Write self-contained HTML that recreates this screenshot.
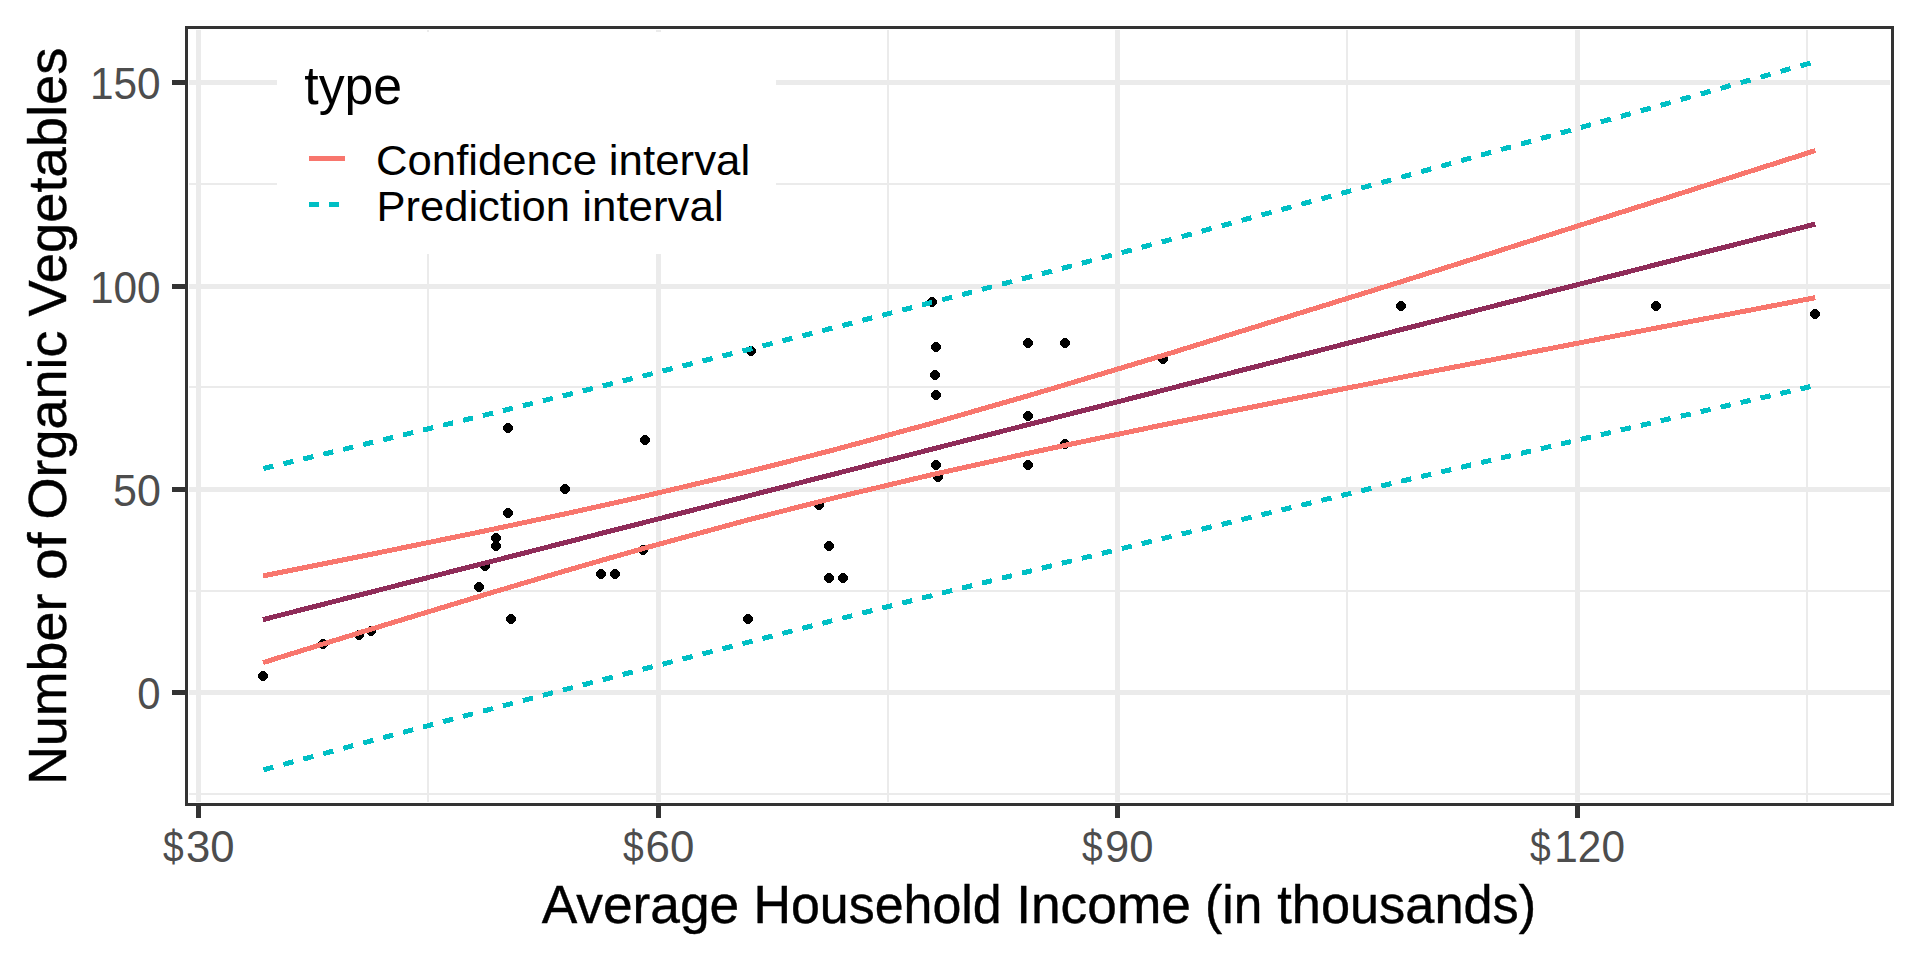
<!DOCTYPE html>
<html><head><meta charset="utf-8"><title>plot</title>
<style>
html,body{margin:0;padding:0;background:#fff;}
body{width:1920px;height:960px;overflow:hidden;}
svg{display:block;}
text{font-family:"Liberation Sans",sans-serif;}
</style></head><body>
<svg width="1920" height="960" viewBox="0 0 1920 960">
<defs><path id="p" d="M-2,-5h4v1h-4z M-3,-4h6v1h-6z M-4,-3h8v1h-8z M-5,-2h10v4h-10z M-4,2h8v1h-8z M-3,3h6v1h-6z M-2,4h4v1h-4z"/></defs>
<rect x="0" y="0" width="1920" height="960" fill="#FFFFFF"/>
<g shape-rendering="crispEdges" fill="#EBEBEB">
<rect x="189" y="183" width="1701" height="2"/>
<rect x="189" y="386" width="1701" height="2"/>
<rect x="189" y="590" width="1701" height="2"/>
<rect x="189" y="793" width="1701" height="2"/>
<rect x="427" y="30" width="2" height="772"/>
<rect x="887" y="30" width="2" height="772"/>
<rect x="1346" y="30" width="2" height="772"/>
<rect x="1806" y="30" width="2" height="772"/>
<rect x="189" y="80" width="1701" height="5"/>
<rect x="189" y="284" width="1701" height="5"/>
<rect x="189" y="487" width="1701" height="5"/>
<rect x="189" y="690" width="1701" height="5"/>
<rect x="196" y="30" width="5" height="772"/>
<rect x="656" y="30" width="5" height="772"/>
<rect x="1115" y="30" width="5" height="772"/>
<rect x="1575" y="30" width="5" height="772"/>
</g>
<g fill="#000000" shape-rendering="crispEdges">
<use href="#p" x="263" y="676"/>
<use href="#p" x="323" y="644"/>
<use href="#p" x="359" y="635"/>
<use href="#p" x="371" y="631"/>
<use href="#p" x="479" y="587"/>
<use href="#p" x="485" y="566"/>
<use href="#p" x="496" y="538"/>
<use href="#p" x="496" y="546"/>
<use href="#p" x="508" y="513"/>
<use href="#p" x="508" y="428"/>
<use href="#p" x="511" y="619"/>
<use href="#p" x="565" y="489"/>
<use href="#p" x="601" y="574"/>
<use href="#p" x="615" y="574"/>
<use href="#p" x="643" y="550"/>
<use href="#p" x="645" y="440"/>
<use href="#p" x="748" y="619"/>
<use href="#p" x="751" y="351"/>
<use href="#p" x="819" y="505"/>
<use href="#p" x="829" y="546"/>
<use href="#p" x="829" y="578"/>
<use href="#p" x="843" y="578"/>
<use href="#p" x="932" y="302"/>
<use href="#p" x="936" y="347"/>
<use href="#p" x="935" y="375"/>
<use href="#p" x="936" y="395"/>
<use href="#p" x="936" y="465"/>
<use href="#p" x="938" y="477"/>
<use href="#p" x="1028" y="343"/>
<use href="#p" x="1028" y="416"/>
<use href="#p" x="1028" y="465"/>
<use href="#p" x="1065" y="343"/>
<use href="#p" x="1065" y="444"/>
<use href="#p" x="1163" y="359"/>
<use href="#p" x="1401" y="306"/>
<use href="#p" x="1656" y="306"/>
<use href="#p" x="1815" y="314"/>
</g>
<g fill="none" stroke-width="5.0" shape-rendering="crispEdges" stroke-linecap="butt" stroke-linejoin="round">
<polyline stroke="#8F2C59" points="263.0,619.6 323.1,604.3 359.0,595.1 371.0,592.1 478.8,564.6 485.0,563.0 495.8,560.3 508.0,557.2 511.0,556.4 564.8,542.7 600.8,533.5 614.8,530.0 643.0,522.8 645.0,522.3 747.8,496.1 750.8,495.3 818.6,478.0 828.8,475.4 843.0,471.8 931.9,449.2 935.0,448.4 935.6,448.2 937.9,447.6 1027.9,424.7 1064.8,415.3 1162.9,390.3 1400.9,329.7 1655.9,264.7 1815.3,224.1"/>
<polyline stroke="#F8766D" points="263.0,575.9 323.1,563.9 359.0,556.7 371.0,554.3 478.8,532.2 485.0,530.9 495.8,528.6 508.0,526.0 511.0,525.4 564.8,513.9 600.8,506.0 614.8,502.8 643.0,496.5 645.0,496.0 747.8,471.7 750.8,471.0 818.6,453.8 828.8,451.2 843.0,447.4 931.9,423.3 935.0,422.4 935.6,422.2 937.9,421.6 1027.9,395.8 1064.8,384.9 1162.9,355.5 1400.9,281.8 1655.9,201.3 1815.3,150.6"/>
<polyline stroke="#F8766D" points="263.0,662.6 323.1,644.0 359.0,632.9 371.0,629.2 478.8,596.5 485.0,594.6 495.8,591.4 508.0,587.8 511.0,586.9 564.8,571.0 600.8,560.6 614.8,556.6 643.0,548.6 645.0,548.0 747.8,520.0 750.8,519.2 818.6,501.9 828.8,499.3 843.0,495.8 931.9,474.7 935.0,474.0 935.6,473.9 937.9,473.4 1027.9,453.3 1064.8,445.4 1162.9,424.9 1400.9,377.4 1655.9,328.1 1815.3,297.7"/>
<path stroke="#00BFC4" d="M263.4,468.5 L273.4,466.1 M283.4,463.7 L293.4,461.3 M303.3,459.0 L313.3,456.6 M323.3,454.2 L333.3,451.8 M343.2,449.4 L353.2,447.0 M363.2,444.6 L371.0,442.7 L373.2,442.2 M383.2,439.8 L393.2,437.3 M403.1,434.9 L413.1,432.5 M423.1,430.1 L433.1,427.6 M443.1,425.2 L453.1,422.8 M463.0,420.4 L473.0,417.9 M483.0,415.5 L485.0,415.0 L493.0,413.1 M502.9,410.6 L508.0,409.4 L511.0,408.7 L512.9,408.2 M522.9,405.7 L532.9,403.3 M542.9,400.8 L552.9,398.3 M562.8,395.9 L564.8,395.4 L572.8,393.4 M582.8,390.9 L592.8,388.5 M602.8,386.0 L612.8,383.5 M622.7,381.0 L632.7,378.5 M642.7,376.1 L643.0,376.0 L645.0,375.5 L652.7,373.6 M662.6,371.0 L672.6,368.5 M682.6,366.0 L692.6,363.5 M702.6,361.0 L712.6,358.5 M722.5,356.0 L732.5,353.5 M742.5,351.0 L747.8,349.7 L750.8,348.9 L752.5,348.5 M762.5,345.9 L772.5,343.4 M782.4,340.9 L792.4,338.3 M802.4,335.8 L812.4,333.2 M822.3,330.7 L828.8,329.0 L832.3,328.1 M842.3,325.6 L843.0,325.4 L852.3,323.0 M862.3,320.4 L872.3,317.8 M882.2,315.3 L892.2,312.7 M902.2,310.1 L912.2,307.5 M922.1,305.0 L931.9,302.4 L932.1,302.4 M942.1,299.8 L952.1,297.2 M962.1,294.6 L972.1,292.0 M982.0,289.4 L992.0,286.7 M1002.0,284.1 L1012.0,281.5 M1022.0,278.9 L1027.9,277.4 L1032.0,276.3 M1041.9,273.7 L1051.9,271.1 M1061.9,268.4 L1064.8,267.7 L1071.9,265.8 M1081.8,263.2 L1091.8,260.5 M1101.8,257.9 L1111.8,255.2 M1121.8,252.6 L1131.8,249.9 M1141.7,247.3 L1151.7,244.6 M1161.7,242.0 L1162.9,241.7 L1171.7,239.3 M1181.7,236.6 L1191.7,233.9 M1201.6,231.2 L1211.6,228.5 M1221.6,225.8 L1231.6,223.1 M1241.5,220.4 L1251.5,217.7 M1261.5,215.0 L1271.5,212.3 M1281.5,209.6 L1291.5,206.9 M1301.4,204.2 L1311.4,201.5 M1321.4,198.8 L1331.4,196.1 M1341.3,193.4 L1351.3,190.7 M1361.3,188.0 L1371.3,185.3 M1381.3,182.6 L1391.3,179.9 M1401.2,177.2 L1411.2,174.5 M1421.2,171.7 L1431.2,168.9 M1441.2,166.2 L1451.2,163.4 M1461.1,160.6 L1471.1,157.9 M1481.1,155.1 L1491.1,152.3 M1501.0,149.6 L1511.0,146.8 M1521.0,144.0 L1531.0,141.3 M1541.0,138.5 L1551.0,135.7 M1560.9,133.0 L1570.9,130.2 M1580.9,127.4 L1590.9,124.7 M1600.9,121.9 L1610.9,119.1 M1620.8,116.4 L1630.8,113.6 M1640.8,110.8 L1650.8,108.1 M1660.7,105.3 L1670.7,102.5 M1680.7,99.6 L1690.7,96.8 M1700.7,94.0 L1710.7,91.2 M1720.6,88.4 L1730.6,85.5 M1740.6,82.7 L1750.6,79.9 M1760.6,77.1 L1770.6,74.3 M1780.5,71.4 L1790.5,68.6 M1800.5,65.8 L1810.5,63.0"/>
<path stroke="#00BFC4" d="M263.4,769.8 L273.4,767.1 M283.4,764.4 L293.4,761.7 M303.3,759.1 L313.3,756.4 M323.3,753.7 L333.3,751.0 M343.2,748.3 L353.2,745.6 M363.2,743.0 L371.0,740.9 L373.2,740.3 M383.2,737.6 L393.2,735.0 M403.1,732.3 L413.1,729.7 M423.1,727.0 L433.1,724.4 M443.1,721.7 L453.1,719.0 M463.0,716.4 L473.0,713.7 M483.0,711.1 L485.0,710.6 L493.0,708.5 M502.9,705.8 L508.0,704.5 L511.0,703.7 L512.9,703.2 M522.9,700.6 L532.9,698.0 M542.9,695.3 L552.9,692.7 M562.8,690.1 L564.8,689.6 L572.8,687.5 M582.8,684.9 L592.8,682.3 M602.8,679.7 L612.8,677.1 M622.7,674.5 L632.7,671.9 M642.7,669.3 L643.0,669.2 L645.0,668.7 L652.7,666.7 M662.6,664.2 L672.6,661.6 M682.6,659.0 L692.6,656.5 M702.6,653.9 L712.6,651.3 M722.5,648.8 L732.5,646.2 M742.5,643.6 L747.8,642.3 L750.8,641.5 L752.5,641.1 M762.5,638.5 L772.5,636.0 M782.4,633.4 L792.4,630.9 M802.4,628.3 L812.4,625.8 M822.3,623.3 L828.8,621.6 L832.3,620.7 M842.3,618.2 L843.0,618.0 L852.3,615.7 M862.3,613.1 L872.3,610.6 M882.2,608.1 L892.2,605.6 M902.2,603.1 L912.2,600.6 M922.1,598.0 L931.9,595.6 L932.1,595.5 M942.1,593.0 L952.1,590.5 M962.1,588.1 L972.1,585.6 M982.0,583.1 L992.0,580.6 M1002.0,578.1 L1012.0,575.6 M1022.0,573.1 L1027.9,571.6 L1032.0,570.6 M1041.9,568.2 L1051.9,565.7 M1061.9,563.2 L1064.8,562.5 L1071.9,560.8 M1081.8,558.3 L1091.8,555.9 M1101.8,553.4 L1111.8,551.0 M1121.8,548.6 L1131.8,546.1 M1141.7,543.7 L1151.7,541.2 M1161.7,538.8 L1162.9,538.5 L1171.7,536.4 M1181.7,534.0 L1191.7,531.6 M1201.6,529.2 L1211.6,526.8 M1221.6,524.4 L1231.6,522.0 M1241.5,519.6 L1251.5,517.2 M1261.5,514.8 L1271.5,512.4 M1281.5,510.0 L1291.5,507.6 M1301.4,505.2 L1311.4,502.8 M1321.4,500.4 L1331.4,498.0 M1341.3,495.6 L1351.3,493.2 M1361.3,490.8 L1371.3,488.4 M1381.3,486.0 L1391.3,483.6 M1401.2,481.2 L1411.2,478.9 M1421.2,476.6 L1431.2,474.3 M1441.2,471.9 L1451.2,469.6 M1461.1,467.3 L1471.1,464.9 M1481.1,462.6 L1491.1,460.3 M1501.0,458.0 L1511.0,455.6 M1521.0,453.3 L1531.0,451.0 M1541.0,448.7 L1551.0,446.3 M1560.9,444.0 L1570.9,441.7 M1580.9,439.3 L1590.9,437.0 M1600.9,434.7 L1610.9,432.4 M1620.8,430.0 L1630.8,427.7 M1640.8,425.4 L1650.8,423.1 M1660.7,420.8 L1670.7,418.5 M1680.7,416.2 L1690.7,413.9 M1700.7,411.7 L1710.7,409.4 M1720.6,407.1 L1730.6,404.8 M1740.6,402.6 L1750.6,400.3 M1760.6,398.0 L1770.6,395.7 M1780.5,393.5 L1790.5,391.2 M1800.5,388.9 L1810.5,386.6"/>
</g>
<rect x="277" y="32" width="499" height="222" fill="#FFFFFF"/>
<g shape-rendering="crispEdges">
<rect x="309" y="156" width="36" height="5" fill="#F8766D"/>
<rect x="309" y="202" width="10" height="5" fill="#00BFC4"/>
<rect x="329" y="202" width="10" height="5" fill="#00BFC4"/>
</g>
<text transform="translate(304.26,103.75) scale(0.9870,1.04)" font-size="52.5" fill="#000000">type</text>
<text transform="translate(376.03,174.80) scale(1.0067,1.0)" font-size="43.4" fill="#000000">Confidence</text>
<text transform="translate(608.87,174.80) scale(1.0104,1.0)" font-size="43.4" fill="#000000">interval</text>
<text transform="translate(376.49,220.90) scale(1.0029,1.0)" font-size="43.4" fill="#000000">Prediction</text>
<text transform="translate(582.27,220.90) scale(1.0112,1.0)" font-size="43.4" fill="#000000">interval</text>
<g shape-rendering="crispEdges" fill="#333333">
<rect x="185" y="26" width="1709" height="3"/>
<rect x="185" y="803" width="1709" height="3"/>
<rect x="185" y="26" width="3" height="780"/>
<rect x="1891" y="26" width="3" height="780"/>
<rect x="172" y="80" width="13" height="5"/>
<rect x="172" y="284" width="13" height="5"/>
<rect x="172" y="487" width="13" height="5"/>
<rect x="172" y="690" width="13" height="5"/>
<rect x="196" y="806" width="5" height="12"/>
<rect x="656" y="806" width="5" height="12"/>
<rect x="1115" y="806" width="5" height="12"/>
<rect x="1575" y="806" width="5" height="12"/>
</g>
<text transform="translate(89.92,98.60) scale(0.9772,1.035)" font-size="43.4" fill="#4D4D4D">150</text>
<text transform="translate(89.92,302.60) scale(0.9772,1.035)" font-size="43.4" fill="#4D4D4D">100</text>
<text transform="translate(112.97,505.60) scale(0.9913,1.035)" font-size="43.4" fill="#4D4D4D">50</text>
<text transform="translate(137.31,708.60) scale(0.9667,1.035)" font-size="43.4" fill="#4D4D4D">0</text>
<text transform="translate(162.97,862.00) scale(0.8565,1.035)" font-size="43.4" fill="#4D4D4D">$</text>
<text transform="translate(186.04,862.00) scale(1.0056,1.035)" font-size="43.4" fill="#4D4D4D">30</text>
<text transform="translate(622.97,862.00) scale(0.8565,1.035)" font-size="43.4" fill="#4D4D4D">$</text>
<text transform="translate(645.53,862.00) scale(1.0102,1.035)" font-size="43.4" fill="#4D4D4D">60</text>
<text transform="translate(1082.07,862.00) scale(0.8565,1.035)" font-size="43.4" fill="#4D4D4D">$</text>
<text transform="translate(1104.89,862.00) scale(1.0045,1.035)" font-size="43.4" fill="#4D4D4D">90</text>
<text transform="translate(1529.97,862.00) scale(0.8565,1.035)" font-size="43.4" fill="#4D4D4D">$</text>
<text transform="translate(1554.33,862.00) scale(0.9748,1.035)" font-size="43.4" fill="#4D4D4D">120</text>
<text transform="translate(541.65,922.75) scale(1.0156,1.03)" font-size="52.5" fill="#000000" stroke="#000000" stroke-width="0.4">Average</text>
<text transform="translate(753.50,922.75) scale(0.9891,1.03)" font-size="52.5" fill="#000000" stroke="#000000" stroke-width="0.4">Household</text>
<text transform="translate(1016.18,922.75) scale(1.0152,1.03)" font-size="52.5" fill="#000000" stroke="#000000" stroke-width="0.4">Income</text>
<text transform="translate(1205.12,922.75) scale(0.9797,1.03)" font-size="52.5" fill="#000000" stroke="#000000" stroke-width="0.4">(in</text>
<text transform="translate(1277.25,922.75) scale(0.9971,1.03)" font-size="52.5" fill="#000000" stroke="#000000" stroke-width="0.4">thousands)</text>
<text transform="translate(66.25,785.04) rotate(-90) scale(1.0081,1.0)" font-size="53.4" fill="#000000" stroke="#000000" stroke-width="0.4">Number</text>
<text transform="translate(66.25,579.90) rotate(-90) scale(1.0651,1.0)" font-size="53.4" fill="#000000" stroke="#000000" stroke-width="0.4">of</text>
<text transform="translate(66.25,519.53) rotate(-90) scale(1.0109,1.0)" font-size="53.4" fill="#000000" stroke="#000000" stroke-width="0.4">Organic</text>
<text transform="translate(66.25,316.50) rotate(-90) scale(1.0181,1.0)" font-size="53.4" fill="#000000" stroke="#000000" stroke-width="0.4">Vegetables</text>
</svg></body></html>
